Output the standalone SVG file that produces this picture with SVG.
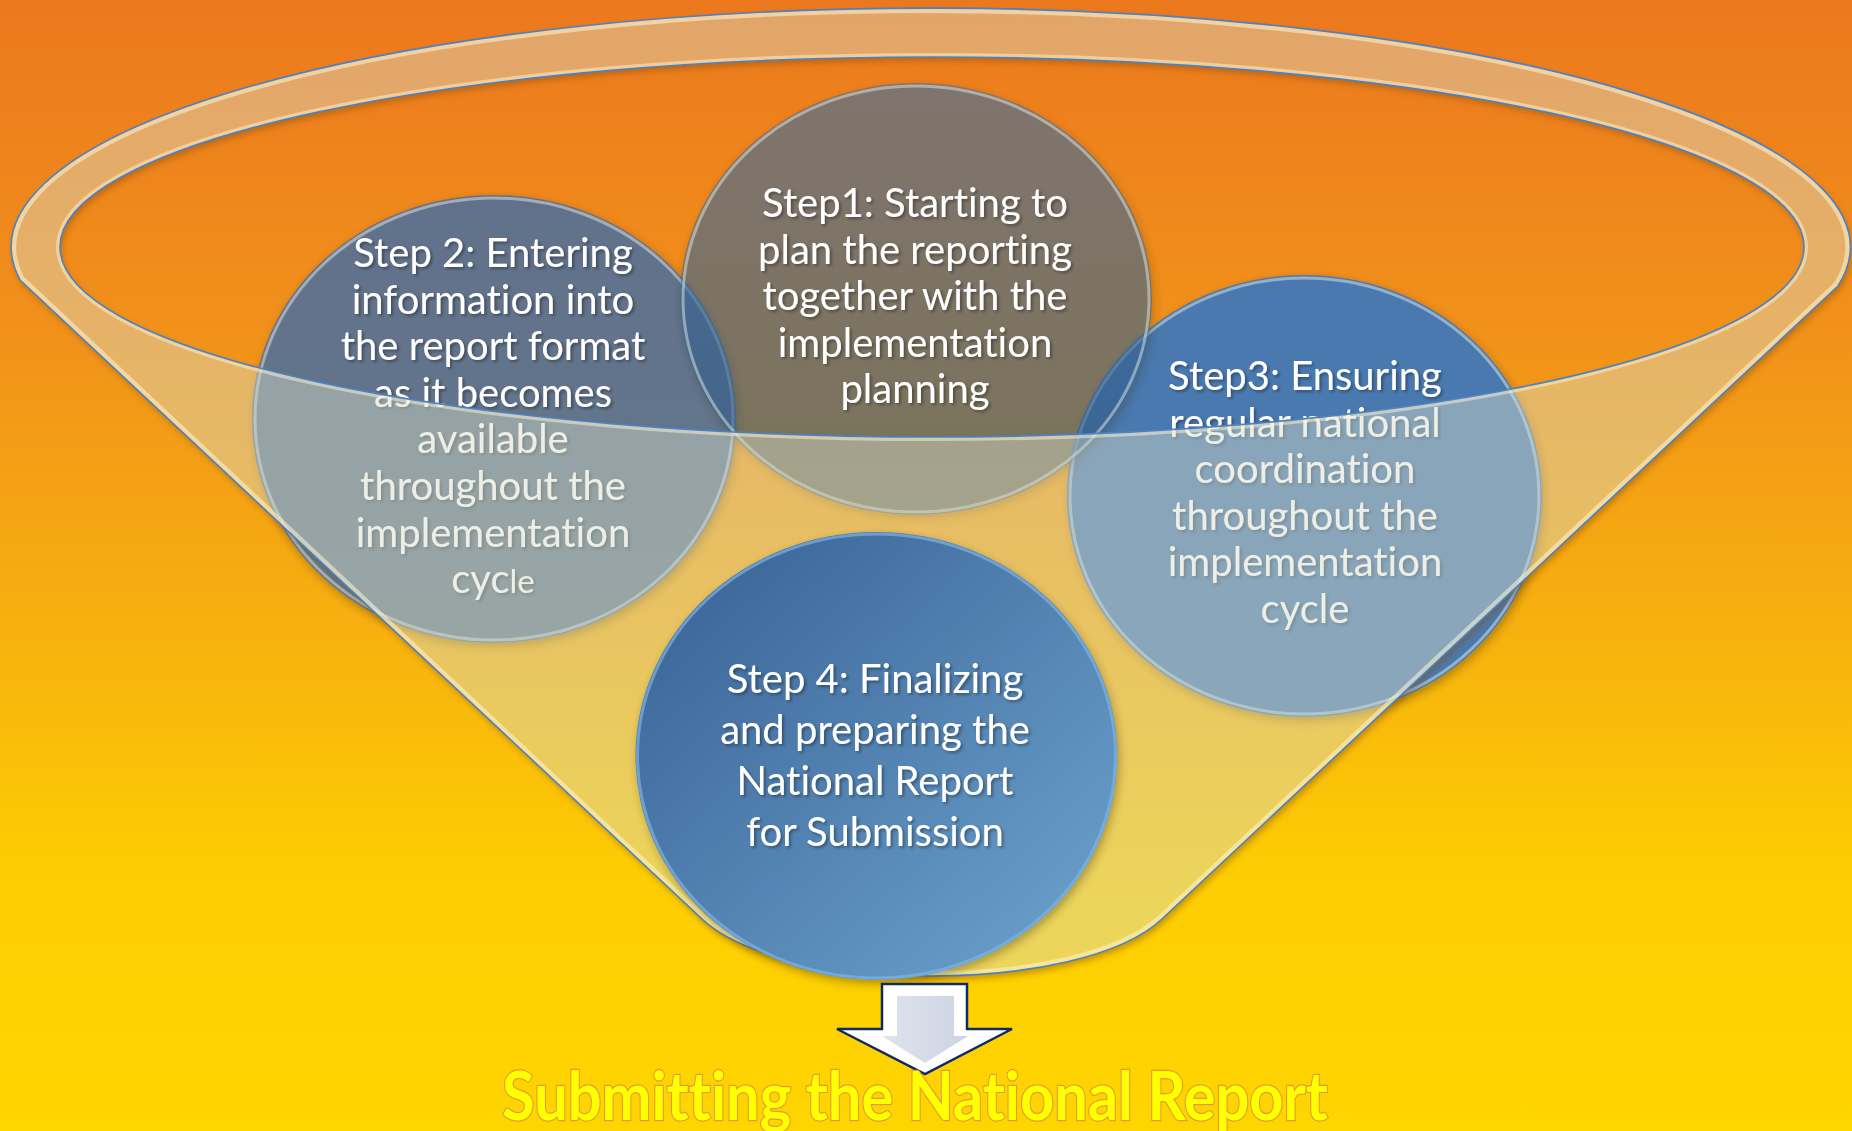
<svg xmlns="http://www.w3.org/2000/svg" width="1852" height="1131" viewBox="0 0 1852 1131">
  <defs>
    <linearGradient id="bg" x1="0" y1="0" x2="0" y2="1">
      <stop offset="0" stop-color="#ec781e"/>
      <stop offset="0.3" stop-color="#f1921a"/>
      <stop offset="0.55" stop-color="#f7b00f"/>
      <stop offset="0.78" stop-color="#fdce02"/>
      <stop offset="1" stop-color="#ffd500"/>
    </linearGradient>
    <linearGradient id="g4" x1="0" y1="0" x2="1" y2="1">
      <stop offset="0" stop-color="#375f93"/>
      <stop offset="1" stop-color="#6ea5cf"/>
    </linearGradient>
    <linearGradient id="g1" x1="0" y1="0" x2="0" y2="1">
      <stop offset="0" stop-color="#3c6ea0"/>
      <stop offset="1" stop-color="#2f5782"/>
    </linearGradient>
    <linearGradient id="arrowFace" x1="0" y1="0" x2="1" y2="0">
      <stop offset="0" stop-color="#dfe3ee"/>
      <stop offset="1" stop-color="#ccd3e2"/>
    </linearGradient>
    <path id="sil" d="M 20 280 L 702 919 C 783 995 1081 995 1162 919 L 1838 286 A 919.5 239 0 1 0 20 280 Z"/>
    <path id="hole" d="M 60 247 A 872 190 0 1 0 1804 247 A 872 190 0 1 0 60 247 Z"/>
    <path id="funnelShape" fill-rule="evenodd" d="M 20 280 L 702 919 C 783 995 1081 995 1162 919 L 1838 286 A 919.5 239 0 1 0 20 280 Z M 60 247 A 872 190 0 1 0 1804 247 A 872 190 0 1 0 60 247 Z"/>
    <clipPath id="funnelClip">
      <path clip-rule="evenodd" d="M 20 280 L 702 919 C 783 995 1081 995 1162 919 L 1838 286 A 919.5 239 0 1 0 20 280 Z M 60 247 A 872 190 0 1 0 1804 247 A 872 190 0 1 0 60 247 Z"/>
    </clipPath>
    <filter id="shOut" x="-5%" y="-5%" width="110%" height="115%">
      <feGaussianBlur in="SourceAlpha" stdDeviation="3" result="blur"/>
      <feOffset in="blur" dx="2" dy="4" result="off"/>
      <feFlood flood-color="#8a4a00" flood-opacity="0.45" result="col"/>
      <feComposite in="col" in2="off" operator="in" result="sh"/>
      <feComposite in="sh" in2="SourceAlpha" operator="out"/>
    </filter>
    <filter id="circShadow" x="-10%" y="-10%" width="125%" height="125%">
      <feGaussianBlur in="SourceAlpha" stdDeviation="4" result="blur"/>
      <feOffset in="blur" dx="2" dy="4" result="off"/>
      <feFlood flood-color="#3a2a00" flood-opacity="0.35" result="col"/>
      <feComposite in="col" in2="off" operator="in" result="sh"/>
      <feComposite in="sh" in2="SourceAlpha" operator="out"/>
    </filter>
    <filter id="ts" x="-5%" y="-10%" width="110%" height="130%">
      <feGaussianBlur in="SourceAlpha" stdDeviation="1.5" result="b"/>
      <feOffset in="b" dx="1.5" dy="2" result="o"/>
      <feFlood flood-color="#000" flood-opacity="0.35"/>
      <feComposite in2="o" operator="in" result="s"/>
      <feMerge><feMergeNode in="s"/><feMergeNode in="SourceGraphic"/></feMerge>
    </filter>
    <style>
      .lbl { font-family: Lato, "Open Sans", "Liberation Sans", sans-serif; font-size: 40px; fill: #ffffff; text-anchor: middle; font-variant-ligatures: none; font-feature-settings: "liga" 0, "clig" 0; }
      .ring { fill: none; stroke: #f2f7ea; stroke-opacity: 0.45; stroke-width: 3; }
      .edge { fill: none; stroke: #4a82c4; stroke-width: 1.6; }
      .title { font-family: Lato, "Open Sans", "Liberation Sans", sans-serif; font-weight: 700; font-size: 66px; fill: #ffff00; stroke: #e29a3c; stroke-width: 2.4; paint-order: stroke; text-anchor: middle; font-variant-ligatures: none; font-feature-settings: "liga" 0, "clig" 0; }
    </style>
  </defs>

  <rect x="0" y="0" width="1852" height="1131" fill="url(#bg)"/>

  <!-- Step 3 -->
  <g id="node-step3">
    <ellipse cx="1304.5" cy="496" rx="237.5" ry="221" fill="#000" filter="url(#circShadow)"/>
    <ellipse cx="1304.5" cy="496" rx="237.5" ry="221" fill="#4478b5" fill-opacity="0.97"/>
    <ellipse class="ring" cx="1304.5" cy="496" rx="234.5" ry="218"/>
    <g filter="url(#ts)">
      <text class="lbl" x="1305" y="390">Step3: Ensuring</text>
      <text class="lbl" x="1305" y="436.6">regular national</text>
      <text class="lbl" x="1305" y="483.2">coordination</text>
      <text class="lbl" x="1305" y="529.8">throughout the</text>
      <text class="lbl" x="1305" y="576.4">implementation</text>
      <text class="lbl" x="1305" y="623">cycle</text>
    </g>
  </g>

  <!-- Step 2 -->
  <g id="node-step2">
    <ellipse cx="494" cy="419" rx="242" ry="224" fill="#000" filter="url(#circShadow)"/>
    <ellipse cx="494" cy="419" rx="242" ry="224" fill="#426ca5" fill-opacity="0.82"/>
    <ellipse class="ring" cx="494" cy="419" rx="239" ry="221"/>
    <g filter="url(#ts)">
      <text class="lbl" x="493" y="267">Step 2: Entering</text>
      <text class="lbl" x="493" y="313.6">information into</text>
      <text class="lbl" x="493" y="360.2">the report format</text>
      <text class="lbl" x="493" y="406.8">as it becomes</text>
      <text class="lbl" x="493" y="453.4">available</text>
      <text class="lbl" x="493" y="500">throughout the</text>
      <text class="lbl" x="493" y="546.6">implementation</text>
      <text class="lbl" x="493" y="593.2">cyc<tspan font-size="33">le</tspan></text>
    </g>
  </g>

  <!-- Step 1 -->
  <g id="node-step1">
    <ellipse cx="916" cy="299" rx="236" ry="216" fill="#000" filter="url(#circShadow)" opacity="0.7"/>
    <ellipse cx="916" cy="299" rx="236" ry="216" fill="url(#g1)" fill-opacity="0.62"/>
    <ellipse class="ring" cx="916" cy="299" rx="233" ry="213"/>
    <g filter="url(#ts)">
      <text class="lbl" x="915" y="217">Step1: Starting to</text>
      <text class="lbl" x="915" y="263.6">plan the reporting</text>
      <text class="lbl" x="915" y="310.2">together with the</text>
      <text class="lbl" x="915" y="356.8">implementation</text>
      <text class="lbl" x="915" y="403.4">planning</text>
    </g>
  </g>

  <!-- Funnel -->
  <g id="funnel">
    <use href="#funnelShape" fill="#000" filter="url(#shOut)"/>
    <use href="#funnelShape" fill="#d7dcc8" fill-opacity="0.45"/>
    <g clip-path="url(#funnelClip)">
      <use href="#sil" fill="none" stroke="#fff4cf" stroke-opacity="0.55" stroke-width="10"/>
      <use href="#hole" fill="none" stroke="#fff4cf" stroke-opacity="0.5" stroke-width="8"/>
    </g>
    <use href="#sil" class="edge"/>
    <use href="#hole" class="edge"/>
  </g>

  <!-- Step 4 -->
  <g id="node-step4">
    <ellipse cx="876.5" cy="756" rx="241" ry="224" fill="#000" filter="url(#circShadow)"/>
    <ellipse cx="876.5" cy="756" rx="241" ry="224" fill="url(#g4)"/>
    <ellipse cx="876.5" cy="756" rx="239" ry="222" fill="none" stroke="#7db3e6" stroke-opacity="0.7" stroke-width="3"/>
    <g filter="url(#ts)">
      <text class="lbl" x="875" y="693">Step 4: Finalizing</text>
      <text class="lbl" x="875" y="744">and preparing the</text>
      <text class="lbl" x="875" y="795">National Report</text>
      <text class="lbl" x="875" y="846">for Submission</text>
    </g>
  </g>

  <!-- Connector: down arrow -->
  <g id="connectors">
    <polygon points="882,984 967,984 967,1029 1012,1029 925,1074 837,1029 882,1029" fill="#ffffff" stroke="#0f2a68" stroke-width="2.5" stroke-linejoin="miter"/>
    <polygon points="897,996 954,996 954,1036 968,1036 925,1063 882,1036 897,1036" fill="url(#arrowFace)"/>
  </g>

  <!-- Title -->
  <g id="title">
    <text class="title" x="915" y="1120" textLength="826" lengthAdjust="spacingAndGlyphs">Submitting the National Report</text>
  </g>
</svg>
